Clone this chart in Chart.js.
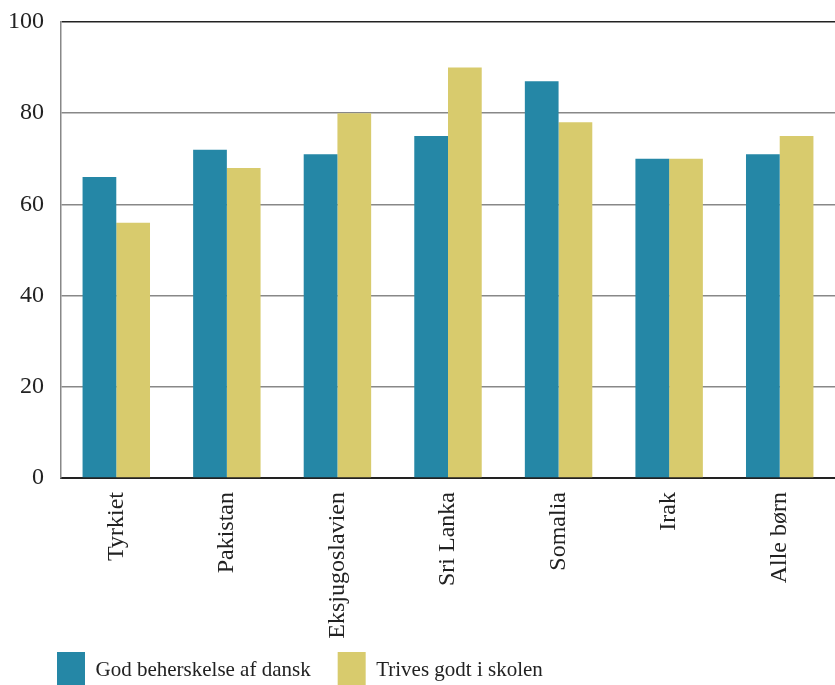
<!DOCTYPE html>
<html>
<head>
<meta charset="utf-8">
<script src="https://cdn.jsdelivr.net/npm/chart.js@4/dist/chart.umd.min.js"></script>
<style>
html,body{margin:0;padding:0;background:#fff;overflow:hidden;}
canvas{display:block;}
#probe{position:absolute;left:-1000px;top:0;font-family:"Liberation Serif";font-size:24px;}
</style>
</head>
<body>
<span id="probe">Tyrkiet 100 God beherskelse</span>
<canvas id="c" width="835" height="698"></canvas>
<script>
const categories = ["Tyrkiet","Pakistan","Eksjugoslavien","Sri Lanka","Somalia","Irak","Alle børn"];
const seriesNames = ["God beherskelse af dansk","Trives godt i skolen"];
const danskValues = [66,72,71,75,87,70,71];
const trivesValues = [56,68,80,90,78,70,75];
const yTicks = [0,20,40,60,80,100];

const BLUE = '#2587A6';
const YELLOW = '#D8CB6D';
const FONT = '"Liberation Serif", "Times New Roman", serif';
const LEGEND_PAD = 27;

// let tick labels overhang their scale box (no clipping)
const noClip = s => { s._computeLabelArea = () => undefined; };

function draw() {
  new Chart(document.getElementById('c'), {
    type: 'bar',
    data: {
      labels: categories,
      datasets: [
        {label: seriesNames[0], data: danskValues, backgroundColor: BLUE, borderWidth: 0},
        {label: seriesNames[1], data: trivesValues, backgroundColor: YELLOW, borderWidth: 0}
      ]
    },
    options: {
      responsive: false,
      animation: false,
      layout: {padding: {left: 30, top: 22, right: 0, bottom: 0}},
      datasets: {bar: {categoryPercentage: 0.61, barPercentage: 1.0}},
      scales: {
        x: {
          grid: {display: false, drawTicks: false},
          border: {display: true, color: '#222', width: 2},
          ticks: {
            color: '#222', font: {family: FONT, size: 24},
            minRotation: 90, maxRotation: 90, padding: 14
          },
          afterFit: s => { s.height = 147; s.paddingTop = 0; s.paddingBottom = 0; noClip(s); }
        },
        y: {
          min: 0, max: 100,
          afterBuildTicks: s => { s.ticks = yTicks.map(v => ({value: v})); },
          grid: {
            drawTicks: false,
            color: c => (c.tick && (c.tick.value === 100 || c.tick.value === 0)) ? '#222' : '#888',
            lineWidth: 1.5
          },
          border: {display: true, color: '#888', width: 1.5},
          ticks: {color: '#222', font: {family: FONT, size: 24}, padding: 17},
          afterFit: s => { s.width = 31; s.paddingTop = 0; s.paddingBottom = 0; noClip(s); }
        }
      },
      plugins: {
        tooltip: {enabled: false},
        legend: {
          position: 'bottom',
          align: 'start',
          labels: {
            boxWidth: 28, boxHeight: 36, padding: LEGEND_PAD,
            color: '#222', font: {family: FONT, size: 21}
          }
        }
      }
    }
  });
}
if (document.fonts && document.fonts.load) {
  document.fonts.load('24px "Liberation Serif"').then(draw, draw);
} else { draw(); }
</script>
</body>
</html>
